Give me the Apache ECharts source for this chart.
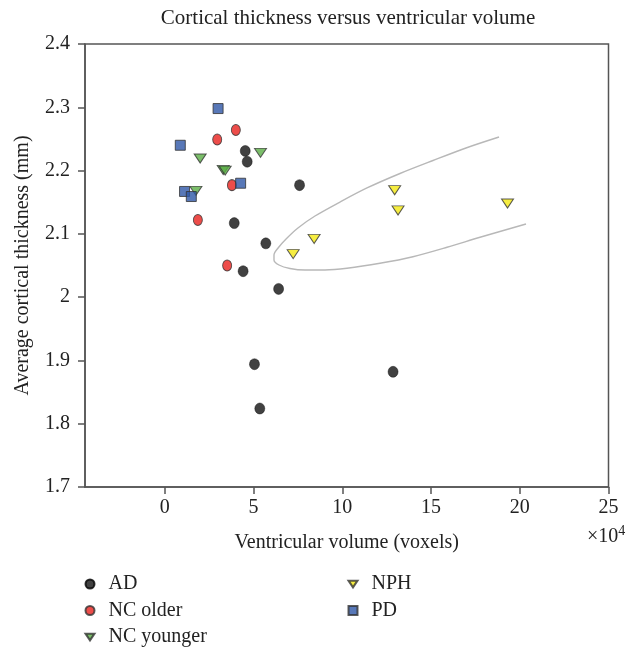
<!DOCTYPE html>
<html>
<head>
<meta charset="utf-8">
<script src="https://cdn.jsdelivr.net/npm/echarts@6/dist/echarts.min.js"></script>
<style>
html,body{margin:0;padding:0;background:#fff;}
#chart{width:631px;height:650px;}
</style>
</head>
<body>
<div id="chart"></div>
<script>
// Ventricular volume (x, in units of 10^4 voxels) and average cortical thickness (y, mm)
var adData = [[4.53,2.231],[4.64,2.214],[7.59,2.177],[3.91,2.117],[5.69,2.085],[4.41,2.041],[6.41,2.013],[5.05,1.894],[5.35,1.824],[12.86,1.882]];
var ncOlderData = [[4.00,2.264],[2.95,2.249],[3.78,2.177],[1.86,2.122],[3.51,2.050]];
var ncYoungerData = [[5.39,2.228],[1.99,2.219],[3.29,2.201],[3.40,2.200],[1.75,2.168]];
var nphData = [[7.23,2.068],[8.41,2.092],[12.95,2.169],[13.14,2.137],[19.31,2.148]];
var pdData = [[3.00,2.298],[0.87,2.240],[4.27,2.180],[1.11,2.167],[1.49,2.159]];
// Gray boundary curve around the NPH group
var curveData = [[18.83,2.2530],[16.97,2.2357],[15.11,2.2159],[13.25,2.1954],[11.39,2.1725],[9.87,2.1503],[8.46,2.1282],[7.50,2.1093],[6.83,2.0919],[6.38,2.0777],[6.15,2.0666],[6.15,2.0587],[6.43,2.0508],[7.05,2.0453],[7.90,2.0429],[9.02,2.0429],[10.26,2.0456],[12.12,2.0535],[13.98,2.0639],[15.90,2.0788],[17.76,2.0946],[20.35,2.1156]];
var xTicks = [0,5,10,15,20,25];
var yTicks = [1.7,1.8,1.9,2.0,2.1,2.2,2.3,2.4];
var seriesNames = ['AD','NC older','NC younger','NPH','PD'];

var FONT = '"Liberation Serif", "Times New Roman", serif';
var TRI_DOWN = 'path://M0,0L12,0L6,9Z';
var chart = echarts.init(document.getElementById('chart'), null, {renderer:'canvas'});
var border = {borderColor:'#333', borderWidth:1};
var legendText = {fontSize:20, color:'#222', fontFamily:FONT, padding:[0,0,0,9]};
var option = {
  animation:false,
  backgroundColor:'#fff',
  textStyle:{fontFamily:FONT},
  grid:{left:85, right:22.5, top:44, bottom:163, show:true, borderColor:'#555', borderWidth:1.5, backgroundColor:'transparent'},
  graphic:[
    {type:'text', x:348, y:18, style:{text:'Cortical thickness versus ventricular volume', font:'21px '+FONT, fill:'#222', textAlign:'center', textVerticalAlign:'middle'}},
    {type:'text', x:587, y:537, style:{text:'×10{s|4}', font:'20px '+FONT, fill:'#222', textVerticalAlign:'middle', rich:{s:{fontSize:14, fontFamily:FONT, verticalAlign:'top', padding:[0,0,12,0]}}}}
  ],
  xAxis:{
    type:'value', min:-4.5, max:25,
    axisLine:{show:true, onZero:false, lineStyle:{color:'#555', width:1.5}},
    axisTick:{show:true, length:7, customValues:xTicks, lineStyle:{color:'#555', width:1.5}},
    axisLabel:{customValues:xTicks, margin:11, color:'#222', fontSize:20, fontFamily:FONT},
    splitLine:{show:false},
    name:'Ventricular volume (voxels)', nameLocation:'middle', nameGap:46,
    nameTextStyle:{color:'#222', fontSize:20, fontFamily:FONT}
  },
  yAxis:{
    type:'value', min:1.7, max:2.4,
    axisLine:{show:true, onZero:false, lineStyle:{color:'#555', width:1.5}},
    axisTick:{show:true, length:7, customValues:yTicks, lineStyle:{color:'#555', width:1.5}},
    axisLabel:{customValues:yTicks, margin:15, color:'#222', fontSize:20, fontFamily:FONT,
      formatter:function(v){return String(Math.round(v*10)/10);}},
    splitLine:{show:false},
    name:'Average cortical thickness (mm)', nameLocation:'middle', nameGap:52,
    nameTextStyle:{color:'#222', fontSize:20, fontFamily:FONT}
  },
  legend:[
    {data:[{name:seriesNames[0]},{name:seriesNames[1]},{name:seriesNames[2], icon:TRI_DOWN}],
     orient:'vertical', left:79.5, top:569, height:100, itemWidth:9, itemHeight:9, itemGap:6.5, textStyle:legendText},
    {data:[{name:seriesNames[3], icon:TRI_DOWN},{name:seriesNames[4]}],
     orient:'vertical', left:342.5, top:569, height:100, itemWidth:9, itemHeight:9, itemGap:6.5, textStyle:legendText}
  ],
  series:[
    {type:'line', name:'boundary', data:curveData, smooth:0.3, showSymbol:false, symbol:'none', silent:true,
     lineStyle:{color:'#b8b8b8', width:1.4}, z:1},
    {type:'scatter', name:seriesNames[0], data:adData, symbol:'circle', symbolSize:[10,11],
     itemStyle:{color:'#111', borderColor:'#000', borderWidth:0.5}, z:3},
    {type:'scatter', name:seriesNames[1], data:ncOlderData, symbol:'circle', symbolSize:[9,11],
     itemStyle:Object.assign({color:'#e8211d'}, border), z:3},
    {type:'scatter', name:seriesNames[2], data:ncYoungerData, symbol:'triangle', symbolRotate:180, symbolSize:[12,9],
     itemStyle:Object.assign({color:'#5aae45'}, border), z:3},
    {type:'scatter', name:seriesNames[3], data:nphData, symbol:'triangle', symbolRotate:180, symbolSize:[12,9],
     itemStyle:Object.assign({color:'#f4e912'}, border), z:3},
    {type:'scatter', name:seriesNames[4], data:pdData, symbol:'rect', symbolSize:10,
     itemStyle:Object.assign({color:'#2e56a6'}, border), z:3}
  ]
};
chart.setOption(option);
</script>
</body>
</html>
